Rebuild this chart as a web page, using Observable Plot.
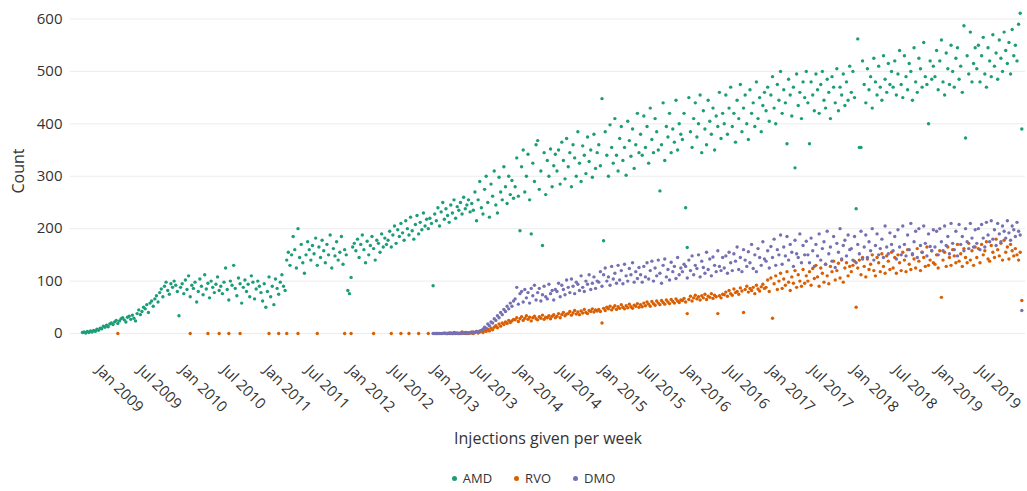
<!DOCTYPE html>
<html>
<head>
<meta charset="utf-8">
<script src="https://cdn.jsdelivr.net/npm/d3@7"></script>
<script src="https://cdn.jsdelivr.net/npm/@observablehq/plot@0.6"></script>
<style>
  body { margin: 0; background: #fff; font-family: "Open Sans", sans-serif; }
  #chart svg { display: block; }
  #legend { display: flex; justify-content: center; align-items: center; padding-left: 40px; margin-top: 10px;
            font-family: "Open Sans", sans-serif; font-size: 13px; color: #333; line-height: 16px; }
  #legend .item { display: flex; align-items: center; margin: 0 11px; }
  #legend .sw { width: 5px; height: 5px; border-radius: 50%; margin-right: 6px; }
</style>
</head>
<body>
<div id="chart"></div>
<div id="legend"></div>
<script>
const seriesNames = ["AMD", "RVO", "DMO"];
const seriesColors = ["#1b9e77", "#d95f02", "#7570b3"];
const firstWeek = "2008-11-10";

const amd = [
  2,3,1,4,2,5,3,6,
  4,8,6,10,9,14,12,16,13,18,20,17,22,25,19,24,28,30,26,22,31,33,27,35,29,24,
  38,45,36,42,50,47,55,40,58,62,52,66,72,60,78,85,70,90,98,82,75,95,88,100,92,80,
  34,88,95,76,102,84,110,70,92,86,98,60,80,104,90,74,112,85,96,68,100,88,78,94,108,82,
  90,76,98,125,84,64,100,92,130,86,72,106,95,58,88,102,80,94,70,110,98,66,85,100,90,78,
  62,95,50,80,108,70,90,55,104,86,75,98,112,90,82,140,155,130,150,185,160,125,200,145,170,135,
  115,150,175,160,140,168,152,182,130,165,145,178,158,135,170,150,188,125,162,148,175,140,155,185,132,160,
  150,82,76,107,165,172,158,180,145,170,188,160,135,176,150,168,185,162,140,178,172,155,190,165,182,170,
  178,195,165,188,205,172,198,185,210,192,178,215,200,188,222,196,180,208,225,190,212,198,230,205,218,200,
  220,210,91,228,215,240,205,232,250,218,238,225,212,245,230,255,220,242,235,250,228,260,238,245,255,232,248,
  235,270,215,255,290,240,228,275,300,250,222,285,262,310,245,230,298,270,255,318,280,248,300,265,292,258,
  280,335,262,196,318,350,270,300,342,255,190,325,290,360,368,275,310,168,345,265,330,300,352,280,320,342,
  310,350,285,365,330,295,372,318,345,280,360,335,300,385,325,290,358,340,305,375,328,350,298,380,315,345,
  360,320,448,177,385,340,300,398,355,325,410,340,310,372,395,330,355,302,405,368,338,390,315,360,420,345,
  380,340,415,355,395,325,430,370,345,410,385,350,272,360,440,330,395,375,420,345,390,365,445,350,400,380,
  370,420,240,164,450,385,355,410,440,375,400,455,345,425,390,360,445,405,380,430,350,415,395,460,372,420,
  400,455,380,430,470,395,420,365,445,410,475,385,430,455,400,370,465,420,440,395,480,410,450,385,435,460,
  425,470,405,455,490,430,400,475,445,500,420,465,440,362,485,455,415,470,316,495,435,460,410,480,450,500,
  440,362,480,455,425,495,465,420,475,500,445,430,485,460,410,490,470,440,505,425,470,455,495,435,480,445,510,
  460,500,450,238,562,355,355,520,475,440,505,465,490,430,525,480,455,510,470,445,530,485,460,515,475,500,
  470,520,455,495,540,475,450,530,490,465,515,500,445,545,480,460,525,505,470,555,490,475,400,520,485,510,
  490,540,465,520,560,480,455,535,505,475,550,500,470,525,545,485,510,460,587,373,530,495,575,480,515,545,
  505,550,480,530,565,495,470,545,520,490,570,510,535,485,560,525,500,575,540,515,555,495,580,530,550,520,590,611,390
];

const rvoZeroWeeks = [22,67,78,85,91,98,116,122,127,134,146,163,167,181,192,198,203,209,215,220];
const rvoStartWeek = 226;
const rvo = [
  0,0,1,0,0,2,0,1,0,0,3,1,0,2,0,1,3,0,2,4,1,3,5,2,6,4,8,5,
  10,7,12,15,11,18,14,20,17,22,19,25,21,24,27,
  26,30,23,28,32,25,29,34,27,31,24,30,33,28,26,32,29,35,27,31,30,34,28,33,36,30,
  33,38,30,36,40,34,37,38,42,35,39,44,37,41,36,43,39,46,40,38,44,42,47,41,45,43,
  46,42,20,48,44,50,47,52,45,49,53,46,51,48,55,50,47,53,49,56,51,48,54,52,57,50,
  55,51,58,53,60,56,52,61,57,54,62,58,55,63,59,56,64,60,57,65,61,58,66,62,59,64,
  63,67,60,38,65,71,62,68,73,66,70,64,72,68,75,65,71,69,76,67,73,70,38,72,68,75,
  74,79,71,82,76,73,85,78,80,75,87,81,40,84,90,79,86,82,88,76,92,85,81,89,94,86,
  88,102,80,106,29,95,110,84,100,115,86,104,92,118,98,82,108,96,120,88,112,100,90,122,96,110,
  100,118,92,124,105,130,108,90,125,115,98,132,110,95,128,118,138,102,120,134,106,140,98,125,135,110,128,
  118,130,138,50,125,140,112,145,128,108,142,122,132,150,120,110,145,135,118,152,128,115,148,138,122,155,
  125,145,115,150,135,120,155,140,118,160,132,122,150,142,125,162,138,120,155,145,128,165,130,140,158,135,
  132,150,125,158,69,140,155,128,165,145,130,160,148,135,170,138,152,128,162,145,135,172,140,158,130,165,
  145,162,135,170,150,158,175,142,138,168,155,145,180,160,148,172,140,178,155,165,142,170,158,148,162,150,140,155,63
];

const dmoStartWeek = 218;
const dmo = [
  0,0,0,0,0,0,0,1,0,0,0,1,0,0,1,0,0,1,0,1,2,0,1,2,1,3,2,4,3,5,6,
  8,12,10,18,15,22,20,28,25,34,30,40,36,46,42,52,47,58,52,62,
  66,88,56,76,80,60,84,68,78,58,86,72,92,64,78,86,62,74,90,70,66,94,76,82,64,84,
  80,96,70,92,84,74,102,88,78,104,90,76,98,94,82,110,88,80,100,94,112,84,96,108,86,100,
  98,118,90,112,125,100,108,92,128,104,115,96,130,102,120,95,132,110,100,124,112,135,98,118,105,126,
  112,98,128,108,135,104,120,138,100,125,110,140,115,96,130,142,108,122,102,136,118,128,105,145,112,125,
  118,132,128,106,140,120,148,112,130,124,150,108,138,126,115,155,122,142,110,146,130,118,158,128,120,145,
  125,148,115,155,135,120,152,138,165,122,145,118,160,140,128,156,135,170,124,150,118,162,145,130,175,142,
  138,158,125,166,145,180,130,160,150,188,132,165,148,185,140,170,155,128,178,152,145,190,135,168,150,176,
  150,135,182,158,128,170,148,190,140,162,175,132,195,152,165,138,185,126,172,155,200,142,168,178,148,188,160,
  162,140,185,135,170,152,195,142,165,188,145,175,158,200,140,168,190,150,162,180,145,205,165,152,192,170,
  158,185,142,198,165,150,205,170,148,188,160,210,152,175,195,145,200,168,155,205,172,148,190,166,158,198,
  165,195,150,200,175,158,205,168,185,152,210,172,160,195,148,208,170,185,158,200,175,162,210,182,165,198,
  172,200,160,208,182,165,212,188,175,215,180,198,168,210,190,175,205,195,182,215,192,178,205,198,185,212,195,188,44
];

const xTickLabels = ["Jan 2009","Jul 2009","Jan 2010","Jul 2010","Jan 2011","Jul 2011","Jan 2012","Jul 2012",
  "Jan 2013","Jul 2013","Jan 2014","Jul 2014","Jan 2015","Jul 2015","Jan 2016","Jul 2016","Jan 2017","Jul 2017",
  "Jan 2018","Jul 2018","Jan 2019","Jul 2019"];
const yTicks = [0, 100, 200, 300, 400, 500, 600];
const xLabel = "Injections given per week";
const yLabel = "Count";

// ---- build table ----
const week0 = new Date(firstWeek + "T00:00:00Z");
const weekDate = i => d3.utcDay.offset(week0, 7 * i);
const rows = [];
amd.forEach((v, i) => rows.push({date: weekDate(i), value: v, series: "AMD"}));
rvoZeroWeeks.forEach(i => rows.push({date: weekDate(i), value: 0, series: "RVO"}));
rvo.forEach((v, i) => rows.push({date: weekDate(rvoStartWeek + i), value: v, series: "RVO"}));
dmo.forEach((v, i) => rows.push({date: weekDate(dmoStartWeek + i), value: v, series: "DMO"}));

const parseTick = d3.utcParse("%b %Y");
const xTicks = xTickLabels.map(parseTick);

const chart = Plot.plot({
  width: 1027,
  height: 460,
  marginLeft: 70,
  marginRight: 2,
  marginTop: 8,
  marginBottom: 127,
  style: {fontFamily: "Open Sans, sans-serif", fontSize: "15px", color: "#333", background: "#fff"},
  x: {
    type: "utc",
    domain: [new Date("2008-09-19T00:00:00Z"), new Date("2020-02-05T00:00:00Z")]
  },
  y: {
    domain: [0, 620],
    ticks: yTicks,
    tickSize: 0,
    tickPadding: 8,
    label: yLabel,
    labelAnchor: "center",
    labelArrow: "none",
    labelOffset: 58
  },
  color: {domain: seriesNames, range: seriesColors},
  marks: [
    Plot.gridY(yTicks, {stroke: "#ececec", strokeOpacity: 1}),
    Plot.axisX(xTicks, {tickFormat: d3.utcFormat("%b %Y"), tickRotate: 45, tickSize: 0, tickPadding: 34, dx: 4, label: null}),
    Plot.text([xLabel], {frameAnchor: "bottom", dy: 110, fontSize: 16, fill: "#333"}),
    Plot.dot(rows, {x: "date", y: "value", fill: "series", r: 1.7})
  ]
});
chart.querySelectorAll('[aria-label="y-axis label"] text').forEach(t => t.style.fontSize = "16px");
document.getElementById("chart").appendChild(chart);

const legend = document.getElementById("legend");
seriesNames.forEach((name, k) => {
  const item = document.createElement("div");
  item.className = "item";
  const sw = document.createElement("span");
  sw.className = "sw";
  sw.style.background = seriesColors[k];
  const lab = document.createElement("span");
  lab.textContent = name;
  item.appendChild(sw);
  item.appendChild(lab);
  legend.appendChild(item);
});
</script>
</body>
</html>
